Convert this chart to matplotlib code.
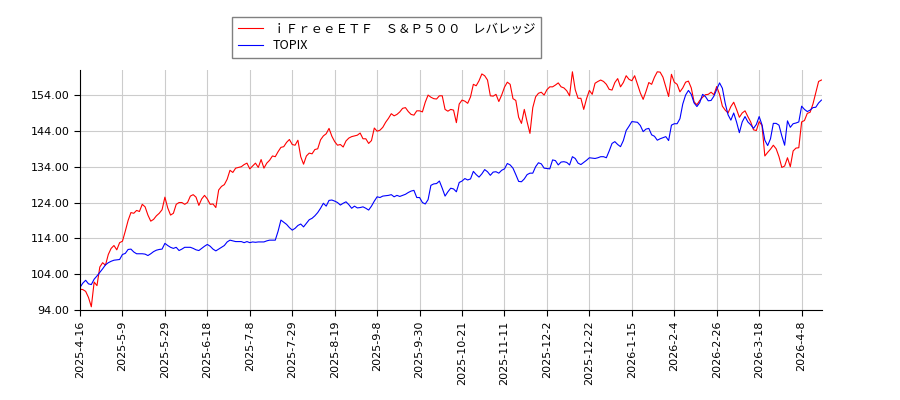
import matplotlib
matplotlib.use("Agg")
import matplotlib.pyplot as plt
import numpy as np

# ---- data (one value per trading day) ----
tick_labels = ["2025-4-16", "2025-5-9", "2025-5-29", "2025-6-18", "2025-7-8",
               "2025-7-29", "2025-8-19", "2025-9-8", "2025-9-30", "2025-10-21",
               "2025-11-11", "2025-12-2", "2025-12-22", "2026-1-15", "2026-2-4",
               "2026-2-26", "2026-3-18", "2026-4-8"]
tick_step = 15

sp500_lev = [
    99.8, 99.7, 99.2, 97.5, 94.9, 101.8, 100.8, 106.0, 107.2, 106.5,
    109.5, 111.2, 112.0, 110.8, 112.8, 113.2, 116.0, 119.0, 121.2, 121.0,
    121.8, 121.5, 123.5, 122.8, 120.5, 118.8, 119.3, 120.3, 121.0, 122.0,
    125.5, 122.5, 120.5, 121.0, 123.5, 124.0, 124.0, 123.5, 124.0, 125.8,
    126.2, 125.5, 123.2, 125.0, 126.0, 125.0, 123.5, 123.6, 122.6, 127.5,
    128.5, 129.0, 130.5, 133.0, 132.4, 133.6, 133.8, 134.0, 134.6, 135.0,
    133.4, 134.2, 135.0, 133.8, 136.0, 133.6, 135.0, 135.8, 137.0, 136.8,
    138.2, 139.4, 139.6, 140.8, 141.6, 140.2, 140.0, 141.4, 136.8, 134.7,
    137.0, 137.8, 137.6, 138.8, 139.0, 141.5, 142.6, 143.2, 144.7, 142.5,
    141.0, 140.0, 140.2, 139.5, 141.2, 142.0, 142.4, 142.6, 142.8, 143.4,
    141.8, 141.8, 140.5, 141.3, 144.8, 143.9, 144.2, 145.0, 146.4, 147.5,
    148.8, 148.2, 148.6, 149.3, 150.3, 150.5, 149.4, 148.6, 148.4, 149.6,
    149.6, 149.3, 152.0, 154.0, 153.4, 153.0, 152.9, 153.8, 153.8, 150.0,
    149.5, 150.0, 149.8, 146.3, 151.5, 152.6, 152.3, 151.7, 153.5, 157.0,
    156.6, 158.0, 159.9, 159.4, 158.2, 153.8, 153.7, 154.2, 152.2, 154.0,
    156.2, 157.6, 157.0, 153.0, 152.5, 147.8, 146.1, 150.0, 146.5, 143.3,
    150.5, 153.5, 154.5, 154.8, 154.0, 155.5, 156.3, 156.3, 156.8, 157.4,
    156.3, 156.0, 155.2, 153.8, 160.5, 155.5, 153.1, 153.1, 150.0, 153.0,
    155.3, 154.2, 157.3, 157.8, 158.2, 157.8, 157.0, 155.6, 155.4, 157.5,
    158.6, 156.3, 157.5, 159.4, 158.4, 158.0, 159.4, 157.0, 154.6, 152.8,
    155.0, 157.5, 157.0, 159.0, 160.5, 160.4, 159.0, 156.3, 153.6, 159.8,
    157.6, 157.0, 154.9, 156.0, 157.6, 157.9, 156.0, 152.1, 151.3, 152.5,
    153.4, 154.1, 154.2, 154.8, 154.1, 156.4, 154.2, 150.9, 149.8, 149.0,
    150.8, 152.0, 150.0, 147.8, 149.0, 149.6, 148.0, 146.5, 144.3, 144.1,
    146.6, 145.5, 137.0, 138.0, 138.9, 140.0, 139.0, 136.8, 133.8, 134.2,
    136.5, 134.0, 138.4, 139.2, 139.3, 146.5, 146.9, 148.9, 149.2, 151.5,
    154.7, 157.8, 158.2,
]

topix = [
    100.3, 101.5, 102.3, 101.3, 101.1, 102.6, 103.5, 104.5, 105.5, 106.6,
    107.2, 107.6, 107.9, 108.0, 108.1, 109.5, 109.8, 110.9, 111.0, 110.2,
    109.7, 109.7, 109.7, 109.6, 109.2, 109.7, 110.3, 110.7, 110.9, 111.0,
    112.6, 112.0, 111.5, 111.2, 111.5, 110.6, 111.0, 111.5, 111.5, 111.5,
    111.2, 110.8, 110.6, 111.2, 111.8, 112.3, 111.8, 111.0, 110.5, 111.0,
    111.5, 112.0, 113.0, 113.5, 113.3, 113.1, 113.1, 113.1, 112.8, 113.1,
    112.8, 113.0, 112.9, 113.0, 113.0, 113.0, 113.3, 113.5, 113.5, 113.5,
    116.0, 119.1, 118.5, 117.9, 117.0, 116.3, 116.8, 117.6, 118.0, 117.2,
    118.2, 119.2, 119.6, 120.3, 121.2, 122.4, 123.8, 123.0, 124.6, 124.7,
    124.4, 124.0, 123.3, 123.8, 124.2, 123.4, 122.4, 123.0, 122.5, 122.6,
    122.8, 122.4, 121.9, 123.0, 124.4, 125.6, 125.4, 125.8, 125.9, 126.0,
    126.2, 125.6, 126.0, 125.7, 126.0, 126.3, 126.8, 127.2, 127.4, 125.4,
    125.4, 124.0, 123.6, 124.8, 128.8, 129.2, 129.3, 130.0, 128.0, 125.8,
    127.0, 128.0, 127.8, 127.0, 129.6, 130.0, 130.7, 130.3, 130.6, 132.7,
    131.8, 131.1, 132.0, 133.2, 132.6, 131.6, 132.5, 132.6, 132.2, 133.0,
    133.4, 134.9, 134.5, 133.6, 131.8, 129.9, 129.8, 130.6, 131.8, 132.2,
    132.2, 134.0, 135.1, 134.8, 133.6, 133.5, 133.4, 135.9, 135.7, 134.5,
    135.3, 135.4, 135.2, 134.5, 136.8, 136.3, 135.0, 134.6, 135.2, 135.8,
    136.5, 136.4, 136.3, 136.5, 136.8, 136.8, 136.5, 138.4, 140.5, 141.0,
    140.2, 139.6, 141.3, 144.1, 145.3, 146.6, 146.5, 146.4, 145.5, 143.8,
    144.5, 144.7, 142.9, 142.5, 141.4, 141.8, 142.1, 142.4, 141.3, 145.6,
    146.0, 146.0, 147.4, 151.5, 154.0, 155.3, 154.2, 151.8, 150.8, 151.9,
    154.2, 153.6, 152.4, 152.5, 153.7, 155.6, 157.4, 155.9, 151.7, 148.5,
    147.0, 149.0, 146.5, 143.5, 146.5, 148.0, 146.5, 145.7, 144.7, 145.8,
    148.0, 145.7, 141.4, 139.9, 141.8, 146.1, 146.1, 145.6, 142.6, 140.0,
    146.8, 145.0, 146.0, 146.2, 146.5, 150.9, 150.0, 149.4, 149.8, 150.5,
    150.6, 151.8, 152.6,
]

label_sp = "ｉＦｒｅｅＥＴＦ　Ｓ＆Ｐ５００　レバレッジ"
label_tp = "TOPIX"

fig = plt.figure(figsize=(9, 4), dpi=100)
ax = fig.add_axes([80 / 900, 1 - 310 / 400, 742 / 900, 240 / 400])

x_sp = np.arange(len(sp500_lev))
x_tp = np.arange(len(topix))
ax.plot(x_sp, sp500_lev, color="red", lw=0.8, label=label_sp)
ax.plot(x_tp, topix, color="blue", lw=0.8, label=label_tp)

ax.set_xlim(0, max(len(sp500_lev), len(topix)) - 0.8)
ax.set_ylim(94, 161)
ax.set_yticks(np.arange(94, 155, 10))
ax.yaxis.set_major_formatter(matplotlib.ticker.FormatStrFormatter("%.2f"))
ax.set_xticks(np.arange(len(tick_labels)) * tick_step)
ax.set_xticklabels(tick_labels, rotation=90)
ax.tick_params(labelsize=8, length=4, color="black")

ax.grid(True, color="#cccccc", lw=0.8)
ax.set_axisbelow(True)
ax.spines["top"].set_visible(False)
ax.spines["right"].set_visible(False)

leg = fig.legend(loc="upper left", bbox_to_anchor=(232 / 900, 1 - 17 / 400),
                 borderaxespad=0,
                 prop={"family": ["Noto Sans CJK JP", "DejaVu Sans"], "size": 9},
                 fancybox=False, edgecolor="#808080", framealpha=1,
                 handlelength=2.0, borderpad=0.45, labelspacing=0.3)
leg.get_frame().set_linewidth(1.0)

fig.savefig("out.png", dpi=100)
